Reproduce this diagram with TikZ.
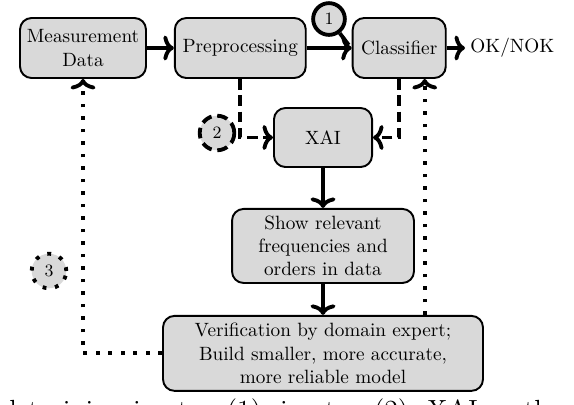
\documentclass[tikz,border=0pt]{standalone}
\usepackage{tikz}
\usetikzlibrary{arrows.meta, positioning, calc}

\begin{document}
\begin{tikzpicture}[
  x=0.52pt, y=-0.52pt,
  block/.style = {draw, line width=1pt, rounded corners=6pt, fill=black!15, minimum height=31.2pt, align=center, inner sep=2pt},
  arrow/.style = {line width=2pt, -{To[length=5.5pt, width=13pt]}},
  dasharrow/.style = {arrow, dash pattern=on 5.5pt off 3pt},
  dotarrow/.style = {arrow, dash pattern=on 2pt off 4.5pt},
  marker/.style = {circle, draw, line width=2pt, fill=black!15, minimum size=18pt, inner sep=0pt, font=\small},
  node distance=14pt and 14pt
]
  \useasboundingbox (0,0) rectangle (574,404);

  % top row
  \node[block, minimum width=65.5pt] (meas) at (83,48) {Measurement\\Data};
  \node[block, minimum width=68.1pt, right=14pt of meas] (prep) {Preprocessing};
  \node[block, minimum width=48.4pt, right=23.4pt of prep] (cls) {Classifier};
  \node[right=9.5pt of cls, inner sep=2.6pt] (ok) {OK/NOK};

  % explanation path
  \node[block, minimum width=51pt, minimum height=30.7pt] (xai) at (323,137.5) {XAI};
  \node[block, minimum width=94.6pt, minimum height=38.5pt, below=20.8pt of xai] (show) {Show relevant\\frequencies and\\orders in data};
  \node[block, minimum width=166.4pt, minimum height=39pt, below=16.1pt of show] (verif) {Verification by domain expert;\\Build smaller, more accurate,\\more reliable model};

  % step markers
  \node[marker, minimum size=16.5pt] (one) at (329,19) {1};
  \node[marker, dash pattern=on 5.5pt off 3pt] (two) at (217,133) {2};
  \node[marker, dash pattern=on 2pt off 4.5pt] (three) at (49,271) {3};

  \coordinate (back) at ($(cls.south)+(25.5,0)$);

  \draw[arrow] (meas) -- (prep);
  \draw[arrow] (prep) -- (cls);
  \draw[arrow] (cls) -- (ok);
  \draw[line width=2pt] (one) -- ($(cls.west)+(-3,-3)$);

  \draw[dasharrow] (prep.south) |- (xai.west);
  \draw[dasharrow] (cls.south) |- (xai.east);
  \draw[arrow] (xai) -- (show);
  \draw[arrow] (show) -- (verif);

  \draw[dotarrow] (verif.west) -| (meas.south);
  \draw[dotarrow] (verif.north -| back) -- (back);

  % caption cut by the page edge
  \node[anchor=base west, inner sep=0pt, font=\fontsize{14.4}{17}\selectfont] (cap) at (9,419) {\spaceskip=5.9pt l training in step (1), in step (2), XAI meth};
\end{tikzpicture}
\end{document}
